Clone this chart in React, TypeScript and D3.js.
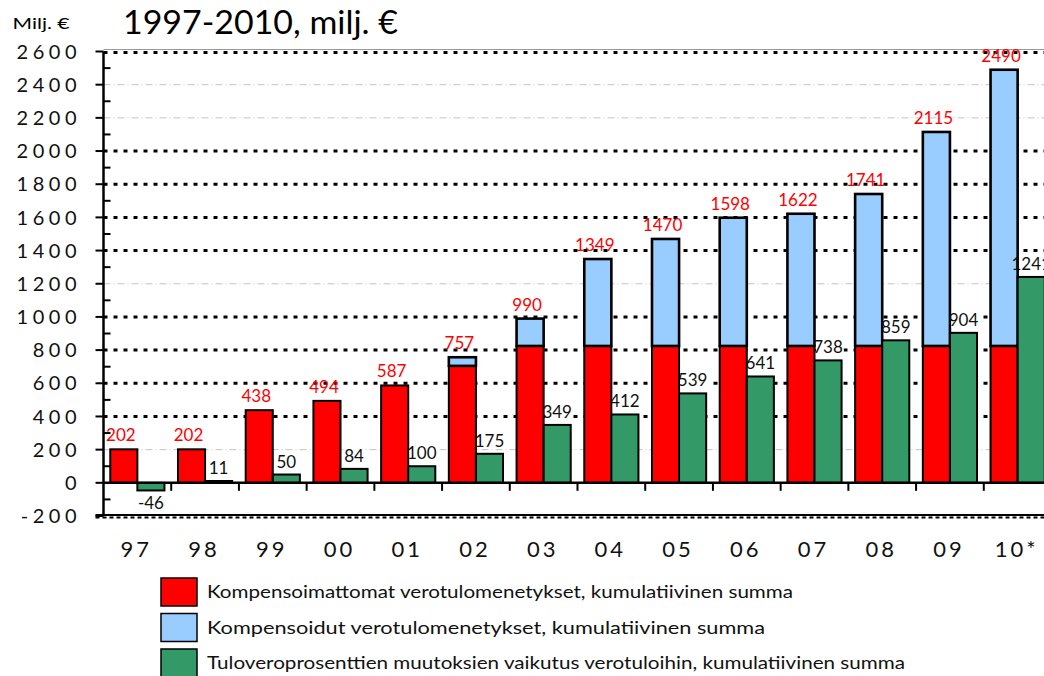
import * as d3 from "d3";

// values, milj. €
const years = ["97", "98", "99", "00", "01", "02", "03", "04", "05", "06", "07", "08", "09", "10*"];
const uncompensated = [202, 202, 438, 494, 587, 705, 825, 825, 825, 825, 825, 825, 825, 825];
const compensated = [0, 0, 0, 0, 0, 52, 165, 524, 645, 773, 797, 916, 1290, 1665];
const incomeTaxEffect = [-46, 11, 50, 84, 100, 175, 349, 412, 539, 641, 738, 859, 904, 1241];
const yTicks = [-200, 0, 200, 400, 600, 800, 1000, 1200, 1400, 1600, 1800, 2000, 2200, 2400, 2600];
const greyGrid = [200, 1200, 2200, 2400];
const legendLabels = [
  "Kompensoimattomat verotulomenetykset, kumulatiivinen summa",
  "Kompensoidut verotulomenetykset, kumulatiivinen summa",
  "Tuloveroprosenttien muutoksien vaikutus verotuloihin, kumulatiivinen summa",
];

const W = 1044;
const H = 676;
const left = 103.5;
const font = "Lato, 'Open Sans', sans-serif";
const RED = "#ff0000";
const BLUE = "#99ccff";
const GREEN = "#339966";

const App = () => {
  const x = d3.scaleBand().domain(years).range([left, 1051.5]).paddingInner(0.2).paddingOuter(0.1);
  const y = d3.scaleLinear().domain([-200, 2600]).range([516, 51.5]);
  const bw = x.bandwidth() / 2;
  const gap = (x.step() - x.bandwidth()) / 2;
  const minorTicks = d3.range(-100, 2600, 200);

  return (
    <svg width={W} height={H} style={{ position: "absolute", left: 0, top: 0, display: "block" }} fontFamily={font}>
      <rect width={W} height={H} fill="#fff" />

      {/* title */}
      <text x={12.5} y={29} fontSize={16} textLength={57} lengthAdjust="spacingAndGlyphs">Milj. €</text>
      <text x={123} y={34} fontSize={32} textLength={275} lengthAdjust="spacingAndGlyphs">1997-2010, milj. €</text>

      {/* gridlines */}
      {yTicks.filter((t) => t !== 0 && t !== -200 && t !== 2600).map((t) =>
        greyGrid.includes(t) ? (
          <line key={t} x1={left} x2={W} y1={y(t)} y2={y(t)} stroke="#c4c4c4" strokeWidth={1} strokeDasharray="7 3 1 3" />
        ) : (
          <line key={t} x1={left} x2={W} y1={y(t)} y2={y(t)} stroke="#000" strokeWidth={3} strokeDasharray="4 6" />
        )
      )}
      <line x1={left} x2={W} y1={y(2600) - 2} y2={y(2600) - 2} stroke="#999" strokeWidth={1} />
      <line x1={left} x2={W} y1={y(2600) + 1} y2={y(2600) + 1} stroke="#000" strokeWidth={3} strokeDasharray="4 6" />
      <line x1={left - 8} x2={W} y1={y(-200) - 1} y2={y(-200) - 1} stroke="#000" strokeWidth={2} />
      <line x1={left - 8} x2={W} y1={y(-200) + 1.5} y2={y(-200) + 1.5} stroke="#000" strokeWidth={2} strokeDasharray="4 3" />

      {/* bars */}
      {years.map((c, i) => {
        const x0 = x(c) as number;
        const g = incomeTaxEffect[i];
        return (
          <g key={c}>
            <rect x={x0} y={y(uncompensated[i])} width={bw} height={y(0) - y(uncompensated[i])} fill={RED} stroke="#000" strokeWidth={2} />
            {compensated[i] > 0 && (
              <rect x={x0} y={y(uncompensated[i] + compensated[i])} width={bw} height={y(uncompensated[i]) - y(uncompensated[i] + compensated[i])} fill={BLUE} stroke="#000" strokeWidth={2.6} />
            )}
            <rect x={x0 + bw} y={y(Math.max(g, 0))} width={bw} height={Math.abs(y(g) - y(0))} fill={GREEN} stroke="#000" strokeWidth={2} />
          </g>
        );
      })}

      {/* zero line and category ticks */}
      <line x1={left} x2={W} y1={y(0)} y2={y(0)} stroke="#000" strokeWidth={2.5} />
      {years.slice(1).map((c) => {
        const bx = (x(c) as number) - gap;
        return <line key={c} x1={bx} x2={bx} y1={y(0)} y2={y(0) + 8} stroke="#000" strokeWidth={2} />;
      })}

      {/* green value labels, white patch kept off the neighbouring bar */}
      {years.map((c, i) => {
        const x0 = x(c) as number;
        const g = incomeTaxEffect[i];
        const gy = g < 0 ? y(g) + 19 : y(g) - 7;
        const label = String(g);
        const lw = label.length * 9.8 + 2;
        const px = Math.max(x0 + bw * 1.5 - lw / 2, x0 + bw + 1.5);
        return (
          <g key={c}>
            <rect x={px} y={gy - 13} width={x0 + bw * 1.5 + lw / 2 - px} height={15} fill="#fff" />
            <text x={x0 + bw * 1.5} y={gy} fontSize={17} fill="#111" textAnchor="middle">{label}</text>
          </g>
        );
      })}

      {/* totals */}
      {years.map((c, i) => {
        const total = uncompensated[i] + compensated[i];
        return (
          <text key={c} x={(x(c) as number) + bw / 2 - 3} y={y(total) - 8} fontSize={17} fill={RED} textAnchor="middle">{total}</text>
        );
      })}

      {/* y axis */}
      <line x1={left} x2={left} y1={y(2600)} y2={y(-200)} stroke="#000" strokeWidth={2.5} />
      {yTicks.map((t) => (
        <g key={t}>
          <line x1={left - 8} x2={left} y1={y(t)} y2={y(t)} stroke="#000" strokeWidth={2} />
          <text x={81} y={y(t)} dy="0.36em" fontSize={20} letterSpacing={4.5} textAnchor="end" fill="#111">{t}</text>
        </g>
      ))}
      {minorTicks.map((t) => (
        <line key={t} x1={left} x2={left + 7} y1={y(t)} y2={y(t)} stroke="#000" strokeWidth={2} />
      ))}

      {/* x labels */}
      {years.map((c) => (
        <text key={c} x={(x(c) as number) + x.bandwidth() / 2 - 1} y={557} fontSize={22} letterSpacing={3} textAnchor="middle" fill="#111">{c}</text>
      ))}

      {/* legend */}
      {legendLabels.map((l, i) => {
        const fill = [RED, BLUE, GREEN][i];
        const ly = 578 + i * 35.5;
        return (
          <g key={l}>
            <rect x={161} y={ly} width={36} height={28} fill={fill} stroke="#000" strokeWidth={1.5} />
            <text x={207} y={ly + 20} fontSize={18} textLength={[586, 558, 698][i]} lengthAdjust="spacingAndGlyphs" fill="#111">{l}</text>
          </g>
        );
      })}
    </svg>
  );
};

export default App;
